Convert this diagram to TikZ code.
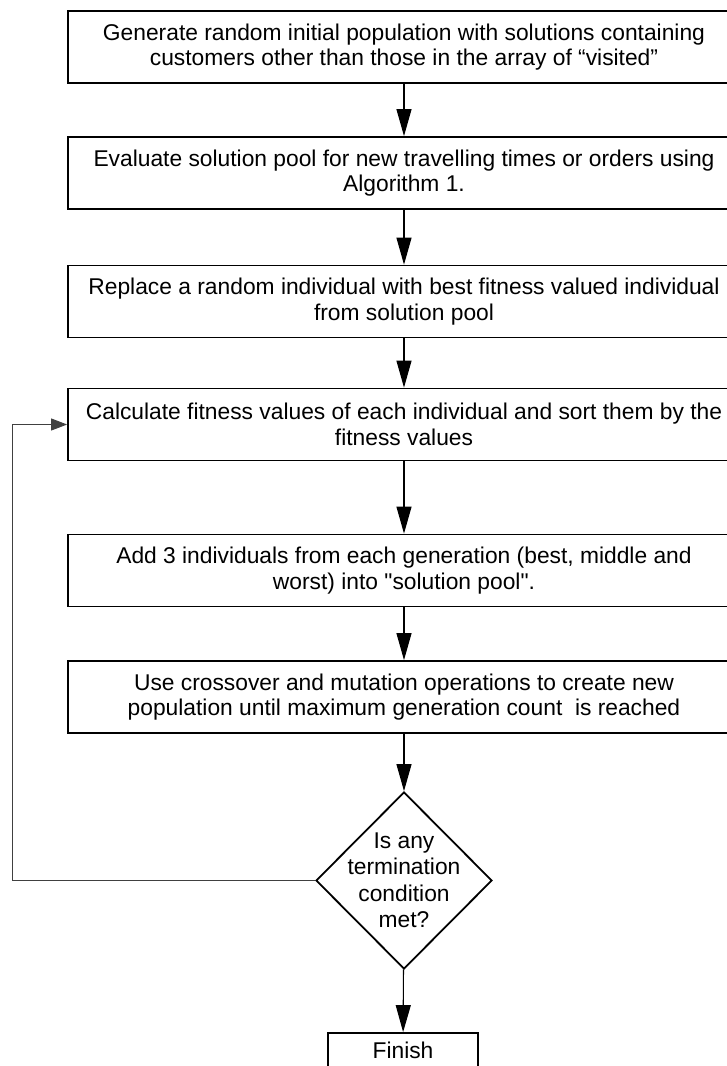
\documentclass[tikz,border=0pt]{standalone}
\usepackage{fontspec}
\setmainfont{Liberation Sans}
\usetikzlibrary{shapes.geometric,arrows.meta}

\begin{document}
\begin{tikzpicture}[x=1pt, y=-1pt,
  stepbox/.style={draw, line width=1.8pt, minimum width=672pt, minimum height=72pt,
    inner sep=0pt, align=center, font=\fontsize{22.8}{25.5}\selectfont},
  decision/.style={draw, diamond, line width=1.8pt, minimum width=176pt,
    minimum height=177pt, inner sep=0pt},
  flow/.style={line width=1.1pt, -{Triangle[length=27pt,width=15pt]}},
  back/.style={line width=0.9pt, draw=black!75, -{Triangle[length=16pt,width=12pt]}}]
  \useasboundingbox (0,0) rectangle (726,1066);

  % Process steps
  \node[stepbox] (init) at (404,47) {Generate random initial population with solutions containing\\customers other than those in the array of “visited”};
  \node[stepbox] (eval) at (404,173) {Evaluate solution pool for new travelling times or orders using\\Algorithm 1.};
  \node[stepbox] (repl) at (404,301.5) {Replace a random individual with best fitness valued individual\\from solution pool};
  \node[stepbox] (calc) at (404,424.5) {Calculate fitness values of each individual and sort them by the\\fitness values};
  \node[stepbox] (add) at (404,570.5) {Add 3 individuals from each generation (best, middle and\\worst) into \textquotedbl solution pool\textquotedbl.};
  \node[stepbox] (cross) at (404,697) {Use crossover and mutation operations to create new\\population until maximum generation count\ \ is reached};

  % Termination test
  \node[decision] (check) at (404,880.5) {};
  \node[align=center, font=\fontsize{22.8}{26.5}\selectfont] (checktext) at (check) {Is any\\termination\\condition\\met?};
  \node[stepbox, minimum width=150pt, minimum height=34pt] (finish) at (403,1050) {Finish};

  % Connectors
  \draw[flow] (init) -- (eval);
  \draw[flow] (eval) -- (repl);
  \draw[flow] (repl) -- (calc);
  \draw[flow] (calc) -- (add);
  \draw[flow] (add) -- (cross);
  \draw[flow] (cross) -- (check);
  \draw[flow] (check) -- (finish);

  % Loop back
  \coordinate (turn) at (12,880.5);
  \draw[back] (check.west) -- (turn) |- (calc.west);
\end{tikzpicture}
\end{document}
